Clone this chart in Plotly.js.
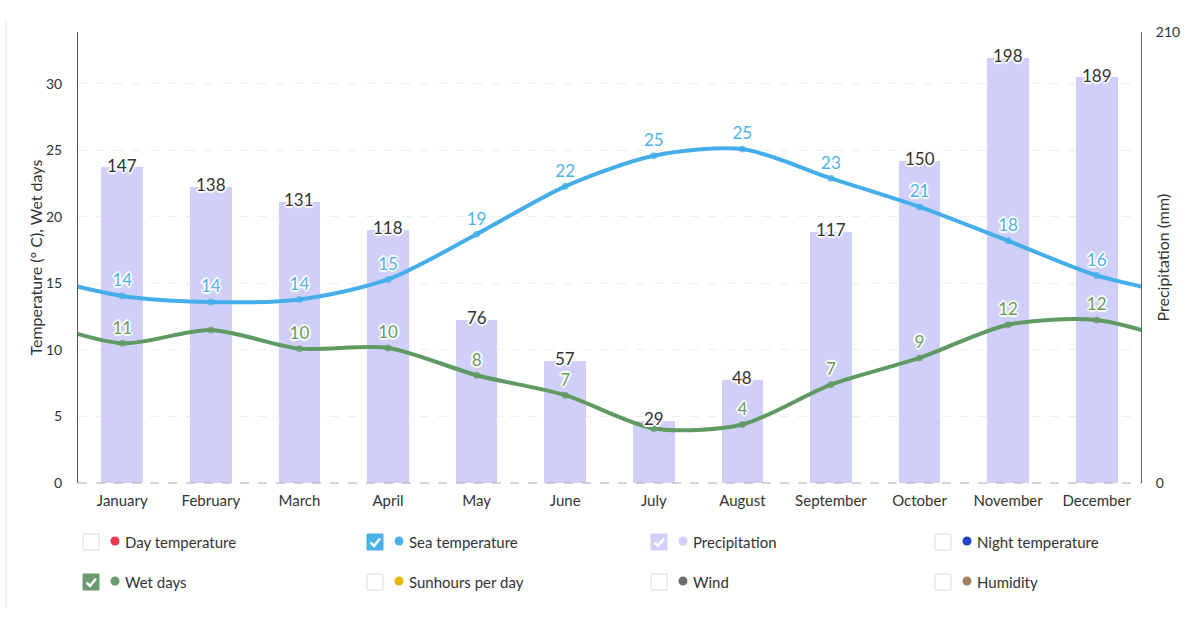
<!DOCTYPE html>
<html>
<head>
<meta charset="utf-8">
<script src="https://cdn.plot.ly/plotly-3.0.1.min.js"></script>
<style>
html,body{margin:0;padding:0;background:#fff;}
#chart{width:1200px;height:628px;}
</style>
</head>
<body>
<div id="chart"></div>
<script>
// ---- data ----
const months = ["January","February","March","April","May","June","July","August","September","October","November","December"];
const seaTemperature = [14.06, 13.6, 13.8, 15.3, 18.7, 22.3, 24.6, 25.1, 22.9, 20.75, 18.2, 15.6];
const wetDays = [10.5, 11.5, 10.1, 10.15, 8.1, 6.6, 4.1, 4.4, 7.4, 9.4, 11.9, 12.25];
const precipitation = [147, 138, 131, 118, 76, 57, 29, 48, 117, 150, 198, 189];
const wetDaysHiddenLabels = [1, 6]; // labels hidden by overlap in the original
const legendNames = ["Day temperature","Sea temperature","Precipitation","Night temperature","Wet days","Sunhours per day","Wind","Humidity"];
const legendColors = ["#e8384f","#4ab0ea","#d0cffa","#1f45c8","#6a9a70","#e8b800","#6b6e6b","#a07e62"];
const legendChecked = [false,true,true,false,true,false,false,false];
const leftTicks = [0,5,10,15,20,25,30];
const rightTicks = [0,210];
const leftTitle = "Temperature (° C), Wet days";
const rightTitle = "Precipitation (mm)";

// ---- layout constants ----
const W = 1200, H = 628;
const L = 78, R = 1141, T = 32, B = 483;
const FONT = "Lato, 'Open Sans', sans-serif";
const SEA = "#45aeea", WET = "#5f9a63", BAR = "#d0cffa";
const px = x => (x - L) / (R - L);
const py = y => (B - y) / (B - T);

const idx = months.map((_, i) => i);
const wrapX = [-1, ...idx, months.length];
const wrap = arr => [arr[arr.length - 1], ...arr, arr[0]];
const markerSizes = wrapX.map((x, i) => (i === 0 || i === wrapX.length - 1) ? 0 : 7);

const seaText = ["", ...seaTemperature.map(v => String(Math.round(v))), ""];
const wetText = ["", ...wetDays.map((v, i) => wetDaysHiddenLabels.includes(i) ? "" : String(Math.round(v))), ""];

const halo = "2px 0 1px #fff, -2px 0 1px #fff, 0 2px 1px #fff, 0 -2px 1px #fff, 1px 1px 1px #fff, -1px -1px 1px #fff, 1px -1px 1px #fff, -1px 1px 1px #fff";

const traces = [
  {
    type: "bar", x: idx, y: precipitation, yaxis: "y", width: 0.47,
    marker: {color: BAR, line: {width: 0}},
    hoverinfo: "skip", showlegend: false
  },
  {
    type: "scatter", mode: "lines+markers+text", x: wrapX, y: wrap(seaTemperature), yaxis: "y2",
    line: {shape: "spline", smoothing: 0.8, color: SEA, width: 4},
    marker: {size: markerSizes, color: SEA, line: {width: 0}},
    text: seaText, textposition: "top center",
    textfont: {family: FONT, size: 17, color: "#4db3ea", shadow: halo},
    hoverinfo: "skip", showlegend: false
  },
  {
    type: "scatter", mode: "lines+markers+text", x: wrapX, y: wrap(wetDays), yaxis: "y2",
    line: {shape: "spline", smoothing: 0.8, color: WET, width: 4},
    marker: {size: markerSizes, color: WET, line: {width: 0}},
    text: wetText, textposition: "top center",
    textfont: {family: FONT, size: 17, color: "#6b9a5f", shadow: halo},
    hoverinfo: "skip", showlegend: false
  }
];

const shapes = [];
const annotations = [];

// precipitation value labels centred on bar tops
precipitation.forEach((v, i) => {
  annotations.push({
    xref: "x", yref: "y", x: i, y: v, yshift: 2,
    xanchor: "center", yanchor: "middle",
    text: String(v), showarrow: false,
    font: {family: FONT, size: 17, color: "#333", shadow: halo}
  });
});

// axis titles
annotations.push({xref: "paper", yref: "paper", x: px(35), y: 0.5, xanchor: "center", yanchor: "middle",
  text: leftTitle, textangle: -90, showarrow: false, font: {family: FONT, size: 16, color: "#333"}});
annotations.push({xref: "paper", yref: "paper", x: px(1162), y: 0.5, xanchor: "center", yanchor: "middle",
  text: rightTitle, textangle: -90, showarrow: false, font: {family: FONT, size: 16, color: "#333"}});

// page left border
shapes.push({type: "line", xref: "paper", yref: "paper", x0: px(6), x1: px(6), y0: py(20), y1: py(607), line: {color: "#e6e6e6", width: 1}});
// dashed baseline
shapes.push({type: "line", xref: "paper", yref: "paper", x0: 0, x1: 1, y0: 0, y1: 0, line: {color: "#aaa", width: 1, dash: "dash"}});

// ---- legend (custom checkboxes) ----
legendNames.forEach((name, i) => {
  const col = i % 4, row = Math.floor(i / 4);
  const bx = 83 + col * 284, cy = 542 + row * 40;
  const s = 16;
  const checked = legendChecked[i];
  shapes.push({
    type: "rect", xref: "paper", yref: "paper",
    x0: px(bx), x1: px(bx + s), y0: py(cy - s / 2), y1: py(cy + s / 2),
    fillcolor: checked ? legendColors[i] : "#fff",
    line: {color: checked ? legendColors[i] : "#dcdcdc", width: 1}
  });
  if (checked) {
    const p = [[bx + 3.5, cy + 0.5], [bx + 7, cy + 4], [bx + 13, cy - 3.5]];
    shapes.push({
      type: "path", xref: "paper", yref: "paper",
      path: "M" + p.map(q => px(q[0]) + "," + py(q[1])).join(" L"),
      line: {color: "#fff", width: 2.5}
    });
  }
  const dr = 4.5, dx = bx + 32;
  shapes.push({
    type: "circle", xref: "paper", yref: "paper",
    x0: px(dx - dr), x1: px(dx + dr), y0: py(cy - dr - 1), y1: py(cy + dr - 1),
    fillcolor: legendColors[i], line: {width: 0}
  });
  annotations.push({
    xref: "paper", yref: "paper", x: px(bx + 40), y: py(cy), xanchor: "left", yanchor: "middle",
    text: name, showarrow: false, font: {family: FONT, size: 15, color: "#333"}
  });
});

const layout = {
  width: W, height: H,
  margin: {l: L, r: W - R, t: T, b: H - B, pad: 0},
  paper_bgcolor: "#fff", plot_bgcolor: "rgba(0,0,0,0)",
  font: {family: FONT, size: 14, color: "#333"},
  showlegend: false,
  bargap: 0,
  xaxis: {
    range: [-0.5, months.length - 0.5], tickvals: idx, ticktext: months,
    showgrid: false, zeroline: false, showline: false, ticks: "",
    tickfont: {family: FONT, size: 15, color: "#333"}, ticklabelstandoff: 7, fixedrange: true
  },
  yaxis: {
    side: "right", range: [0, 210], tickvals: rightTicks, showgrid: false, zeroline: false,
    showline: true, linecolor: "#666", linewidth: 1, ticks: "",
    tickfont: {family: FONT, size: 14, color: "#333"}, ticklabelstandoff: 11,
    fixedrange: true
  },
  yaxis2: {
    overlaying: "y", side: "left", range: [0, 33.9], tickvals: leftTicks,
    showgrid: true, gridcolor: "#efefef", griddash: "dash", gridwidth: 1,
    zeroline: false, showline: true, linecolor: "#555", linewidth: 1, ticks: "",
    tickfont: {family: FONT, size: 14, color: "#333"}, ticklabelstandoff: 12,
    fixedrange: true
  },
  shapes: shapes,
  annotations: annotations
};

Plotly.newPlot("chart", traces, layout, {displayModeBar: false, staticPlot: true});
</script>
</body>
</html>
